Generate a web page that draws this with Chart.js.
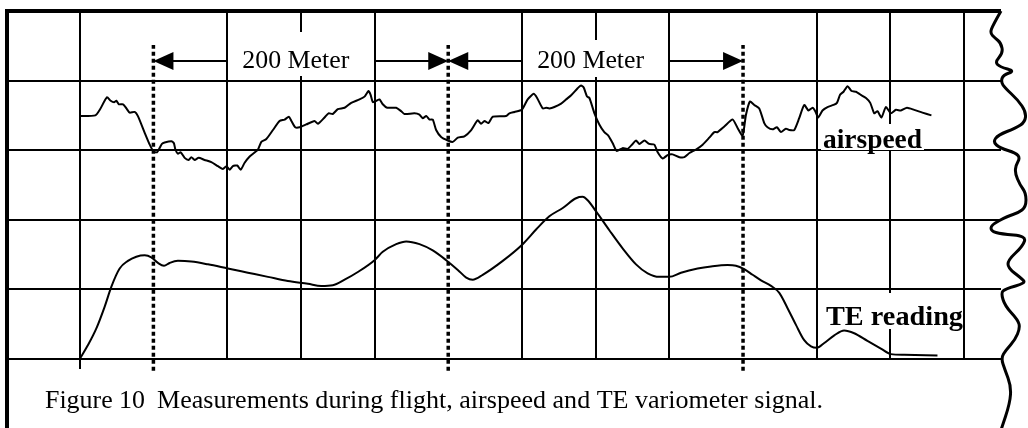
<!DOCTYPE html>
<html lang="en">
<head>
  <meta charset="UTF-8">
  <title>Figure 10</title>
  <script src="https://cdn.jsdelivr.net/npm/chart.js"></script>
  <style>
    body {
      margin: 0;
      background: #ffffff;
    }
    canvas {
      display: block;
    }
  </style>
</head>
<body>
  <canvas id="chart" width="1028" height="428"></canvas>

  <script>
  // distance along the flight path in metres, signal in chart divisions
  const airspeedDist = [0,10.6,13.6,18.5,21,23.3,24.9,26.6,29.4,31.7,33.9,37.3,39.5,44.1,47.5,50.2,52.4,54.2,55.8,57.6,
    62.2,63.9,64.9,66.6,68.5,71.2,73.9,75.7,78,80.7,84.7,89.3,93.8,97.2,99.5,101.7,103.9,106.9,109.2,111.9,
    115.3,120.9,123.2,126.6,131.1,135.6,139,141.9,143.6,146.2,149.2,153.7,159.3,161.6,166.1,168.8,171.7,175.1,179.7,184.2,
    189.8,193.2,195.9,197.3,198.9,201.2,203.4,205.6,208.6,214.7,218.1,220.3,227.1,230.5,232.7,235.1,237.3,239.5,241.8,245.2,
    249.7,253.1,256.5,261,265.6,270,272.3,274.6,277.3,280.2,289.3,291.5,294.9,299.9,303.9,308,310.3,314.1,316.4,318.6,
    322,326.6,330,333.4,337.8,340.1,341.9,344.2,345.8,349.2,352.5,355.9,358.6,361.6,364.3,368.3,371.7,375.1,377.4,379.7,
    383.1,386.4,389.8,392.1,395.5,398.8,402.2,406.8,410.2,413.6,418.1,422.6,427.1,430.5,432.7,437.3,442.9,446.3,449.7,452,
    454.7,457.6,461,464.4,466.6,470,473,475.7,479.1,481.4,484.7,488.1,491.5,494.4,497.2,499,501,503.9,507.3,511.4,
    513.7,515.9,518.2,520.9,523.6,526.6,529.5,533.4,536.3,539,541.2,543.9,546.9,550.3,553.7,557.1,561.2,566.1,571.7,577.8];
  const airspeedVal = [3.49,3.50,3.58,3.76,3.71,3.69,3.71,3.66,3.66,3.60,3.54,3.55,3.49,3.25,3.08,2.98,2.97,3.03,3.09,3.11,
    3.13,3.10,3.01,2.95,2.97,2.89,2.86,2.90,2.86,2.89,2.86,2.83,2.77,2.73,2.77,2.72,2.77,2.78,2.72,2.82,
    2.91,3.01,3.12,3.16,3.29,3.42,3.44,3.48,3.42,3.33,3.33,3.37,3.42,3.38,3.47,3.53,3.52,3.59,3.61,3.68,
    3.73,3.77,3.85,3.80,3.69,3.71,3.73,3.66,3.61,3.61,3.56,3.52,3.53,3.51,3.46,3.49,3.44,3.44,3.29,3.19,
    3.14,3.12,3.18,3.20,3.29,3.43,3.38,3.42,3.39,3.48,3.49,3.53,3.55,3.58,3.73,3.81,3.75,3.60,3.61,3.60,
    3.62,3.67,3.73,3.79,3.89,3.93,3.90,3.77,3.75,3.53,3.37,3.26,3.21,3.10,2.99,3.03,3.02,3.09,3.14,3.09,
    3.14,3.09,3.08,2.97,2.88,2.93,2.94,2.90,2.90,2.96,3.01,3.08,3.18,3.26,3.26,3.34,3.44,3.32,3.21,3.51,
    3.70,3.65,3.60,3.39,3.33,3.30,3.33,3.26,3.31,3.29,3.29,3.46,3.65,3.57,3.61,3.56,3.47,3.57,3.62,3.65,
    3.68,3.80,3.84,3.92,3.85,3.84,3.80,3.75,3.68,3.53,3.56,3.47,3.62,3.53,3.58,3.57,3.61,3.58,3.54,3.50];

  const teDist = [0,5.6,11.3,16.9,21.5,27.1,32.7,38.4,44.1,48.6,53.1,57.2,61,66.6,75.7,87,100.5,114.1,127.7,141.2,
    154.8,163.9,171.7,179.7,188.7,200,205.6,214.7,221.5,230.5,239.5,248.6,256.5,262.2,266.6,273.4,287,300.5,309.6,318.6,
    327.7,336.7,341.2,344.6,350.3,359.3,368.3,377.4,385.3,393.2,400,407.9,419.2,428.3,439.5,445.2,450.8,456.5,462.2,469,
    474.6,480.2,485.9,491.5,496.1,500.1,505.1,511.9,518.6,525.4,534.4,543.5,550.3,559.3,581.9];
  const teVal = [0,0.20,0.44,0.75,1.04,1.30,1.41,1.47,1.49,1.46,1.38,1.34,1.38,1.41,1.40,1.36,1.30,1.24,1.18,1.12,
    1.08,1.05,1.06,1.14,1.25,1.42,1.54,1.65,1.69,1.65,1.56,1.42,1.28,1.17,1.14,1.21,1.41,1.65,1.86,2.05,
    2.17,2.31,2.33,2.28,2.12,1.85,1.59,1.36,1.23,1.18,1.18,1.24,1.30,1.33,1.35,1.34,1.29,1.21,1.13,1.05,
    0.95,0.73,0.49,0.27,0.18,0.16,0.23,0.34,0.41,0.37,0.26,0.15,0.07,0.06,0.05];

  // 200 m marks and the spans between them
  const markerDist = [50, 250, 450];
  const spanLabel = '200 Meter';
  const caption = ['Figure 10', 'Measurements during flight, airspeed and TE variometer signal.'];

  const black = '#000000';
  const none = 'rgba(0,0,0,0)';
  const serif = "'Liberation Serif', 'Times New Roman', serif";

  // torn paper edge on the right, offsets from the plot's right side
  const tornEdge = [[0,11],[-8,25],[-11,33],[-6,38],[0,43],[2,53],[-6,62],[-1,67],[14,71],[2,75],[0,82],[4,88],
    [17,100],[25,112],[24,122],[15,128],[-3,135],[-8,142],[-1,148],[15,153],[19,158],[15,165],[14,173],[19,185],
    [25,193],[25,207],[17,213],[7,216],[-10,225],[-10,231],[0,234],[25,236],[22,246],[7,260],[7,268],[20,278],
    [25,283],[4,289],[0,293],[4,306],[17,320],[19,328],[14,340],[5,350],[0,358],[4,370],[10,386],[9,403],[0,430]];

  function fitText(ctx, text, left, right, baseline, font) {
    ctx.save();
    ctx.font = font;
    const w = ctx.measureText(text).width;
    ctx.translate(left, baseline);
    ctx.scale((right - left) / w, 1);
    ctx.fillStyle = black;
    ctx.textBaseline = 'alphabetic';
    ctx.textAlign = 'left';
    ctx.fillText(text, 0, 0);
    ctx.restore();
  }

  function arrowHead(ctx, tipX, y, dir) {
    ctx.beginPath();
    ctx.moveTo(tipX, y);
    ctx.lineTo(tipX + dir * 20, y - 9);
    ctx.lineTo(tipX + dir * 20, y + 9);
    ctx.closePath();
    ctx.fill();
  }

  const figurePlugin = {
    id: 'figure',
    beforeDatasetsDraw(chart) {
      const ctx = chart.ctx;
      const x = chart.scales.x;
      ctx.save();
      ctx.fillStyle = '#ffffff';
      // white boxes behind the labels
      for (let i = 0; i < markerDist.length - 1; i++) {
        const a = x.getPixelForValue(markerDist[i] + 50);
        const b = x.getPixelForValue(markerDist[i + 1] - 50);
        ctx.fillRect(a + 2, i === 0 ? 32 : 40, b - a - 4, i === 0 ? 44 : 37);
      }
      ctx.fillRect(821, 124, 103, 26);
      ctx.fillRect(821, 293, 142, 36);
      ctx.restore();
    },
    afterDatasetsDraw(chart) {
      const ctx = chart.ctx;
      const x = chart.scales.x;
      const yArrow = 61;
      ctx.save();
      ctx.strokeStyle = black;
      ctx.fillStyle = black;
      ctx.lineWidth = 2;
      for (let i = 0; i < markerDist.length - 1; i++) {
        const p0 = x.getPixelForValue(markerDist[i]);
        const p1 = x.getPixelForValue(markerDist[i + 1]);
        const a = x.getPixelForValue(markerDist[i] + 50);
        const b = x.getPixelForValue(markerDist[i + 1] - 50);
        ctx.beginPath();
        ctx.moveTo(p0 + 10, yArrow);
        ctx.lineTo(a, yArrow);
        ctx.moveTo(b, yArrow);
        ctx.lineTo(p1 - 10, yArrow);
        ctx.stroke();
        arrowHead(ctx, p0, yArrow, 1);
        arrowHead(ctx, p1, yArrow, -1);
        const mid = (a + b) / 2 - 5;
        fitText(ctx, spanLabel, mid - 53.5, mid + 53.5, 68, '25px ' + serif);
      }
      fitText(ctx, 'airspeed', 823, 922, 148, 'bold 27px ' + serif);
      fitText(ctx, 'TE reading', 826, 963, 325, 'bold 28px ' + serif);
      ctx.restore();
    },
    afterDraw(chart) {
      const ctx = chart.ctx;
      const area = chart.chartArea;
      ctx.save();
      ctx.strokeStyle = black;
      ctx.lineWidth = 4;
      ctx.beginPath();
      ctx.moveTo(area.left + 1, chart.height + 2);
      ctx.lineTo(area.left + 1, area.top);
      ctx.lineTo(area.right, area.top);
      ctx.stroke();

      ctx.lineWidth = 3;
      ctx.lineJoin = 'round';
      ctx.beginPath();
      const pts = tornEdge.map(p => [area.right + p[0], p[1]]);
      ctx.moveTo(pts[0][0], pts[0][1]);
      for (let i = 1; i < pts.length - 1; i++) {
        const mx = (pts[i][0] + pts[i + 1][0]) / 2;
        const my = (pts[i][1] + pts[i + 1][1]) / 2;
        ctx.quadraticCurveTo(pts[i][0], pts[i][1], mx, my);
      }
      const last = pts[pts.length - 1];
      ctx.lineTo(last[0], last[1]);
      ctx.stroke();

      fitText(ctx, caption[0], 45, 145, 408, '25px ' + serif);
      fitText(ctx, caption[1], 157, 823, 408, '25px ' + serif);
      ctx.restore();
    }
  };

  function buildChart() {
    const hiddenX = [-50, 625, ...markerDist];
    const markerSets = markerDist.map(d => ({
      data: [{ x: d, y: -0.17 }, { x: d, y: 4.51 }],
      borderColor: black,
      borderWidth: 3.5,
      borderDash: [4, 3],
      pointRadius: 0,
      clip: false
    }));

    new Chart(document.getElementById('chart').getContext('2d'), {
      type: 'line',
      data: {
        datasets: [
          {
            label: 'airspeed',
            data: airspeedDist.map((d, i) => ({ x: d, y: airspeedVal[i] })),
            borderColor: black,
            borderWidth: 2,
            pointRadius: 0,
            tension: 0.2
          },
          {
            label: 'TE reading',
            data: teDist.map((d, i) => ({ x: d, y: teVal[i] })),
            borderColor: black,
            borderWidth: 2,
            pointRadius: 0,
            cubicInterpolationMode: 'monotone'
          },
          ...markerSets
        ]
      },
      options: {
        responsive: false,
        animation: false,
        devicePixelRatio: 1,
        layout: { padding: { left: 6, top: 11, right: 27, bottom: 59 } },
        plugins: {
          legend: { display: false },
          tooltip: { enabled: false }
        },
        scales: {
          x: {
            type: 'linear',
            min: -50,
            max: 625,
            ticks: { display: false, stepSize: 50 },
            border: { display: false },
            grid: {
              lineWidth: 2,
              color: c => hiddenX.includes(c.tick.value) ? none : black,
              drawTicks: true,
              tickLength: 10,
              tickColor: c => c.tick.value === 0 ? black : none
            }
          },
          y: {
            min: 0,
            max: 5,
            ticks: { display: false, stepSize: 1 },
            border: { display: false },
            grid: { lineWidth: 2, color: black, drawTicks: false }
          }
        }
      },
      plugins: [figurePlugin]
    });
  }

  window.onload = buildChart;
  </script>
</body>
</html>
